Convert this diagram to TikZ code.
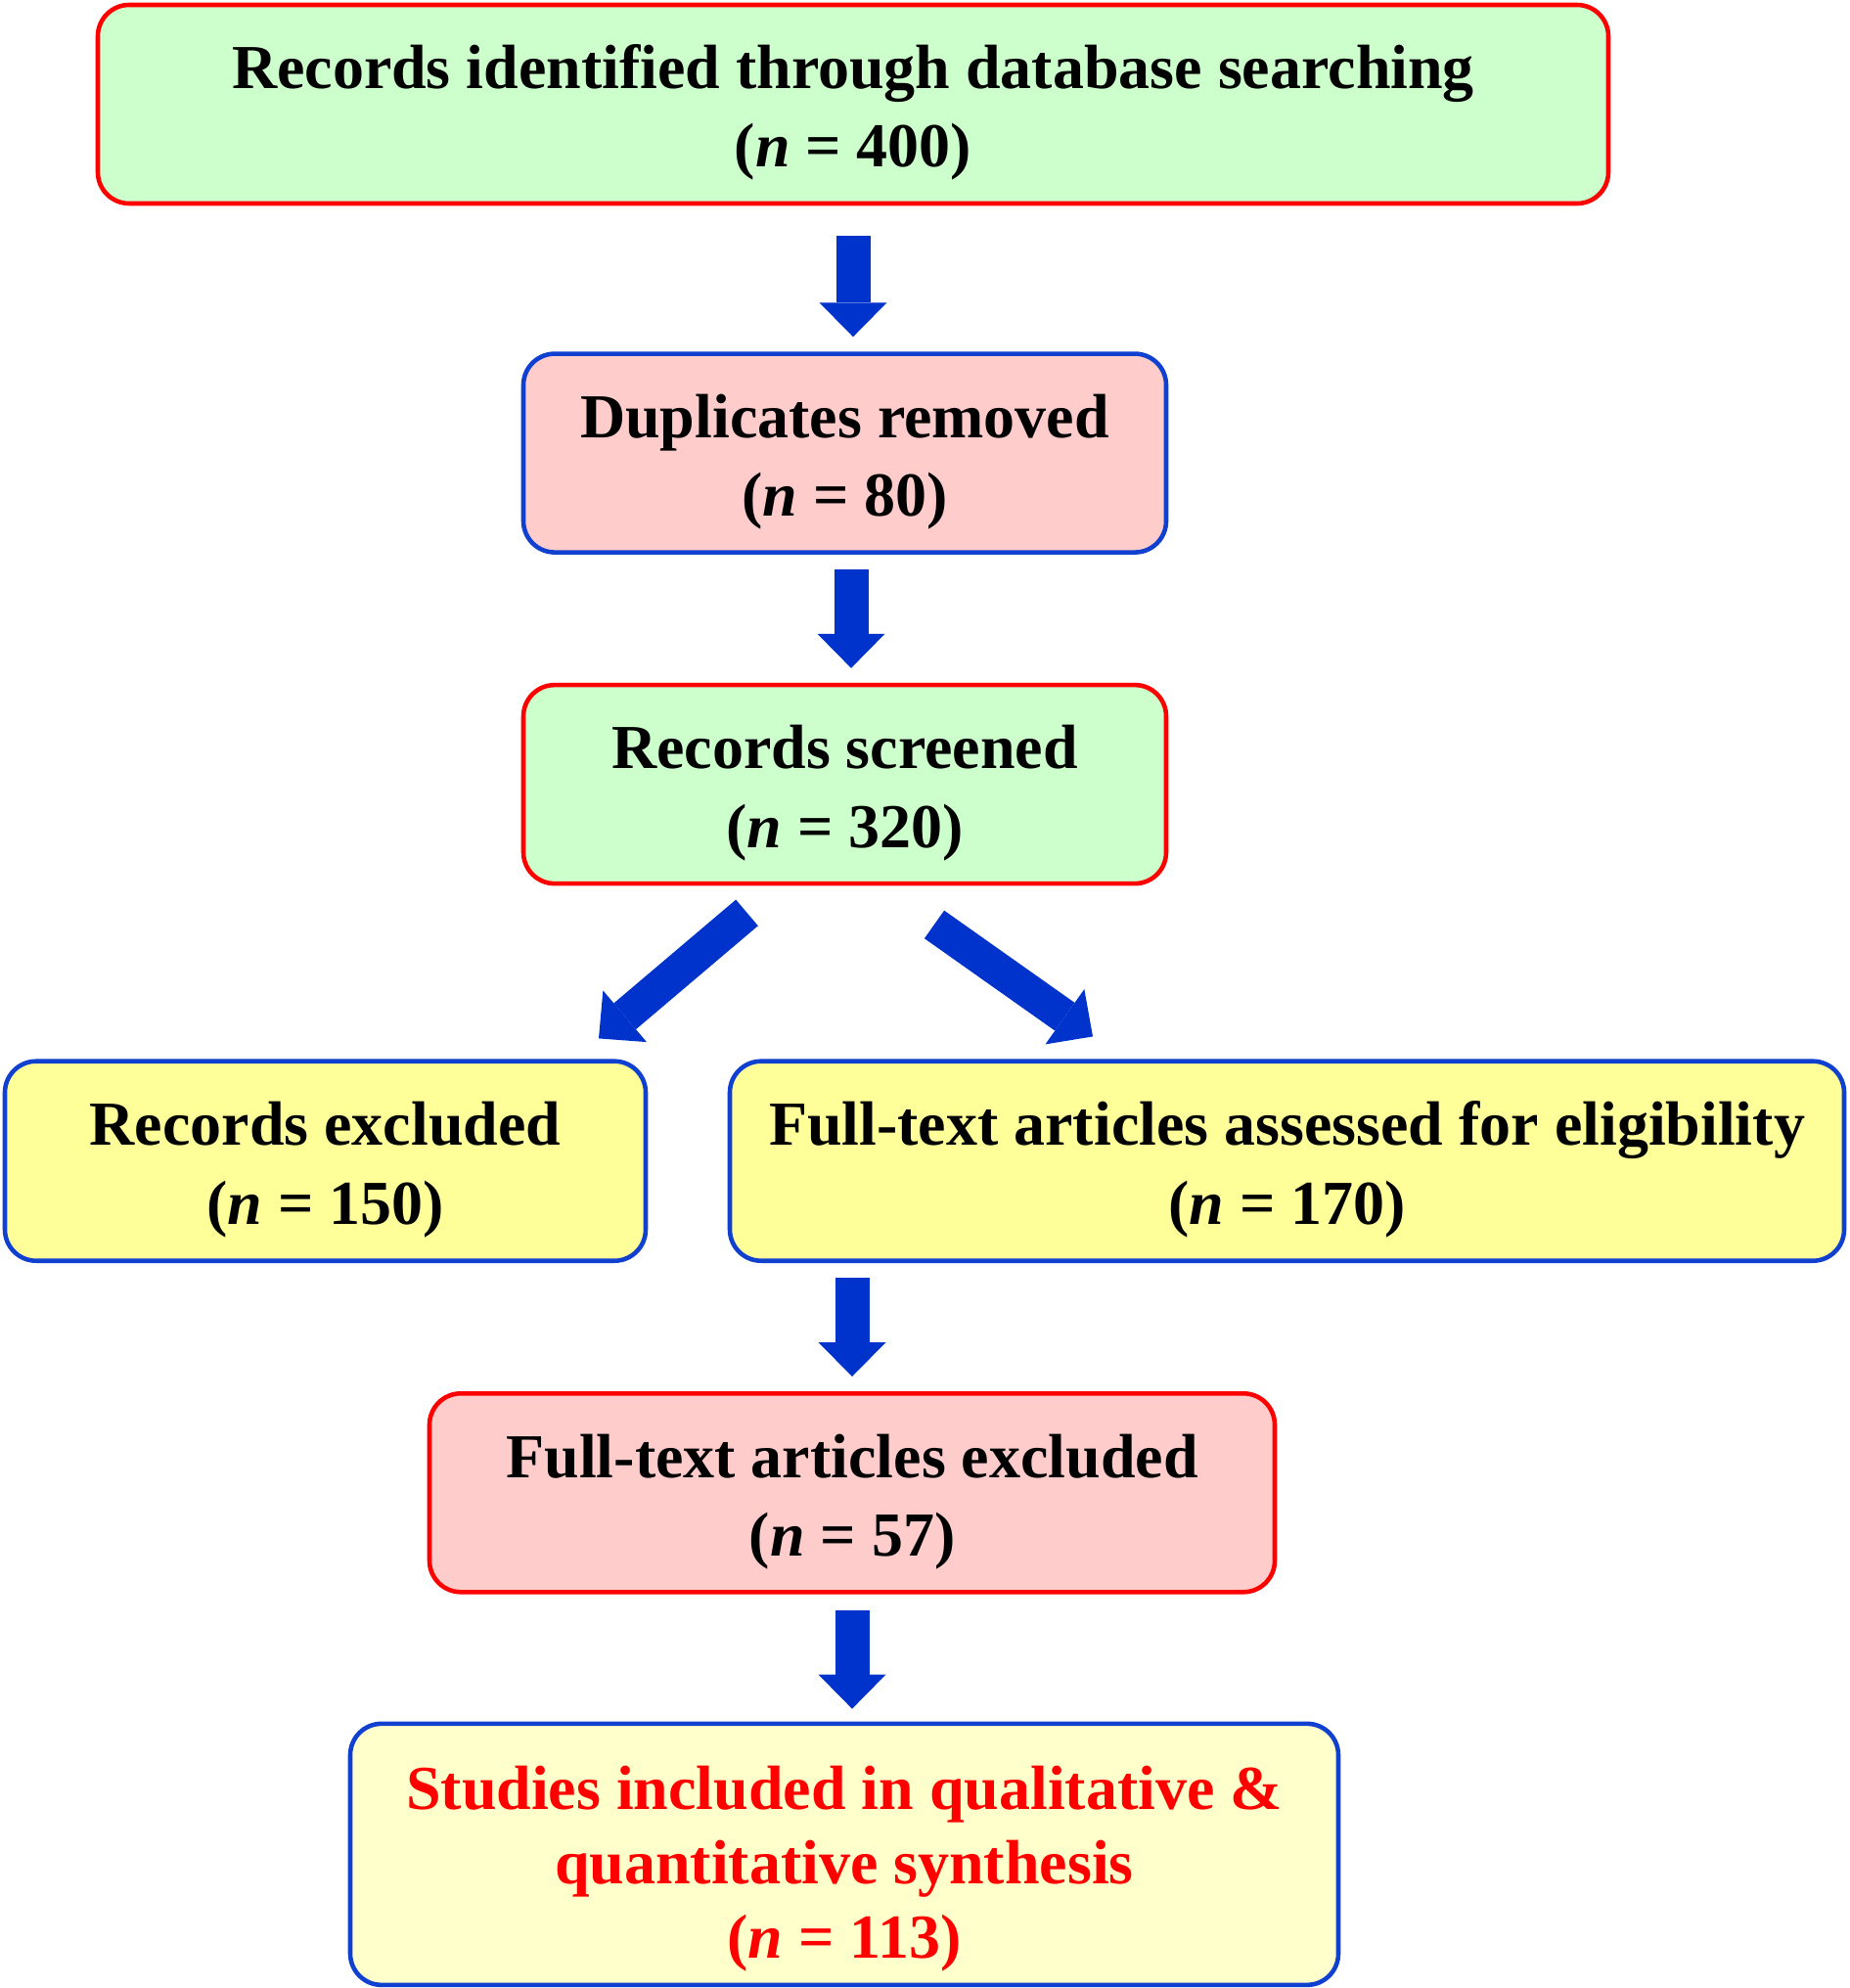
\documentclass[tikz,border=0pt]{standalone}
\usepackage{fontspec}
\setmainfont{Liberation Serif}
\usepackage{xcolor}
\usepackage{tikz}
\usetikzlibrary{shapes,arrows,arrows.meta,positioning,calc}
\definecolor{boxgreen}{HTML}{CCFFCC}
\definecolor{boxpink}{HTML}{FFCCCC}
\definecolor{boxyellow}{HTML}{FFFF99}
\definecolor{boxcream}{HTML}{FFFFCC}
\definecolor{edgeblue}{HTML}{1040D0}
\definecolor{flowblue}{HTML}{0033CC}
\newcommand{\boxstrut}[1][17.7pt]{\rule{0pt}{#1}}
\tikzstyle{box} = [draw, rectangle, rounded corners=0.32cm, line width=1.3pt,
    minimum height=2.03cm, inner sep=0pt, align=center,
    font=\fontsize{18.2}{22.8}\selectfont\bfseries]
\tikzstyle{redbox} = [box, draw=red]
\tikzstyle{bluebox} = [box, draw=edgeblue]
\tikzstyle{flow} = [draw=flowblue, line width=0.35cm,
    -{Triangle[width=0.69cm, length=0.35cm, line width=0pt]}]

\begin{document}
\begin{tikzpicture}[auto, >=latex]
    \useasboundingbox (0,0) rectangle (18.9,-20.32);
    \node (records) [redbox, fill=boxgreen, minimum width=15.44cm] at (8.72,-1.065) {\boxstrut Records identified through database searching\\(\textit{n} = 400)};
    \node (dup) [bluebox, fill=boxpink, minimum width=6.57cm, below=1.49cm of records, xshift=-0.085cm] {\boxstrut Duplicates removed\\(\textit{n} = 80)};
    \node (screened) [redbox, fill=boxgreen, minimum width=6.57cm, below=1.31cm of dup] {\boxstrut Records screened\\(\textit{n} = 320)};
    \node (excluded) [bluebox, fill=boxyellow, minimum width=6.55cm, minimum height=2.04cm, below=1.77cm of screened, xshift=-5.31cm] {\boxstrut Records excluded\\(\textit{n} = 150)};
    \node (fulltext) [bluebox, fill=boxyellow, minimum width=11.39cm, minimum height=2.04cm, below=1.77cm of screened, xshift=4.52cm] {\boxstrut Full-text articles assessed for eligibility\\(\textit{n} = 170)};
    \node (ftexcl) [redbox, fill=boxpink, minimum width=8.64cm, below=1.31cm of screened.south |- fulltext.south, xshift=0.075cm] {\boxstrut Full-text articles excluded\\(\textit{n} = 57)};
    \node (included) [bluebox, fill=boxcream, minimum width=10.10cm, minimum height=2.67cm, below=1.30cm of ftexcl, xshift=-0.08cm, text=red, font=\fontsize{18.2}{21.6}\selectfont\bfseries] {\boxstrut[20.9pt]Studies included in qualitative \&\\quantitative synthesis\\(\textit{n} = 113)};

    \draw [flow, shorten <=0.31cm, shorten >=0.15cm] (records.south) -- (records.south |- dup.north);
    \draw [flow, shorten <=0.15cm, shorten >=0.15cm] ($(dup.south)+(0.065,0)$) -- ($(screened.north)+(0.065,0)$);
    \draw [flow] ($(screened.south)+(-1.0,-0.275)$) -- ($(screened.south)+(-2.515,-1.56)$);
    \draw [flow] ($(screened.south)+(0.915,-0.395)$) -- ($(screened.south)+(2.535,-1.54)$);
    \draw [flow, shorten <=0.15cm, shorten >=0.15cm] (ftexcl.north |- fulltext.south) -- (ftexcl.north);
    \draw [flow, shorten <=0.16cm, shorten >=0.13cm] (ftexcl.south) -- (ftexcl.south |- included.north);
\end{tikzpicture}
\end{document}
